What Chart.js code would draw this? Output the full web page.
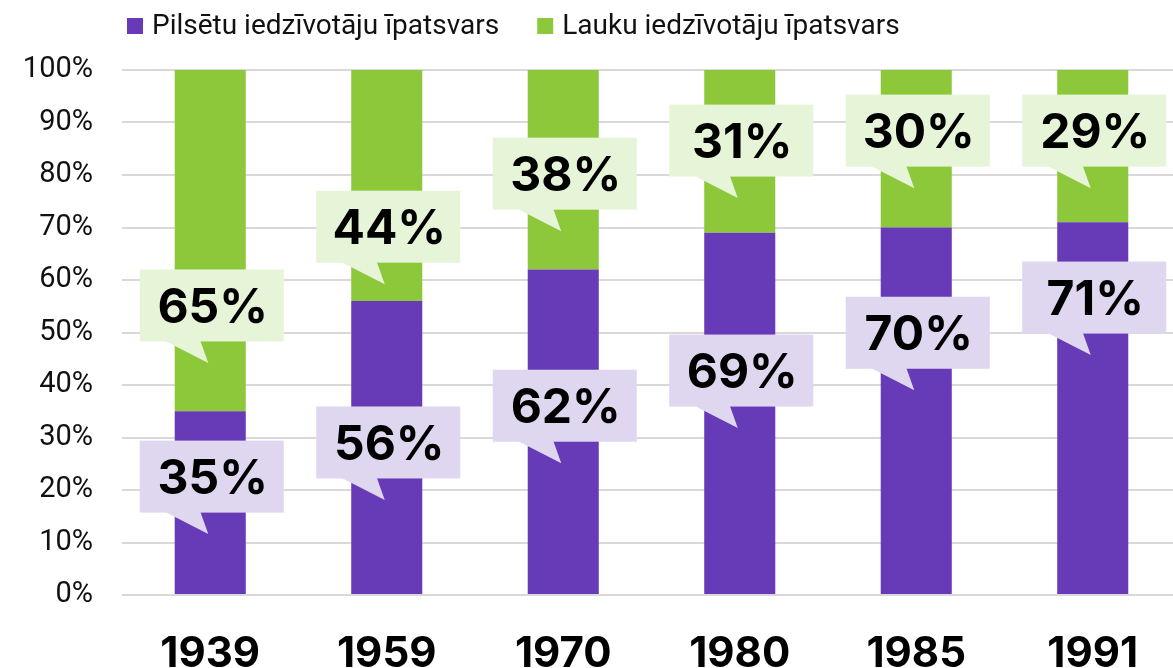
<!DOCTYPE html>
<html>
<head>
<meta charset="utf-8">
<script src="https://cdn.jsdelivr.net/npm/chart.js@4.4.1/dist/chart.umd.min.js"></script>
<style>
  html, body { margin: 0; padding: 0; background: #ffffff; overflow: hidden; }
  #wrap { position: relative; width: 1173px; height: 668px; overflow: hidden; }
  #c { display: block; }
</style>
</head>
<body>
<div id="wrap"><canvas id="c" width="1181" height="668"></canvas></div>
<script>
// ---- data ----
const years = ['1939', '1959', '1970', '1980', '1985', '1991'];
const urbanShare = [35, 56, 62, 69, 70, 71];
const ruralShare = [65, 44, 38, 31, 30, 29];
const seriesNames = ['Pilsētu iedzīvotāju īpatsvars', 'Lauku iedzīvotāju īpatsvars'];
const yTicks = [0, 10, 20, 30, 40, 50, 60, 70, 80, 90, 100];
// where each callout's pointer tip sits, in axis units (%)
const urbanCalloutTip = [11.6, 18.1, 25.1, 31.8, 39.0, 45.7];
const ruralCalloutTip = [44.2, 59.2, 69.3, 75.6, 77.5, 77.5];

const PURPLE = '#673ab7';
const GREEN = '#8cc83a';
const PURPLE_LIGHT = '#dfd6f0';
const GREEN_LIGHT = '#e6f4d8';

const legendPlugin = {
  id: 'customLegend',
  afterDraw(chart) {
    const ctx = chart.ctx;
    ctx.save();
    ctx.font = '400 28px Roboto';
    ctx.textBaseline = 'alphabetic';
    ctx.textAlign = 'left';
    let x = 127;
    chart.data.datasets.forEach((ds, i) => {
      ctx.fillStyle = ds.backgroundColor;
      ctx.fillRect(x, 18, 16, 16);
      ctx.fillStyle = '#111111';
      ctx.fillText(ds.label, x + 25, 34);
      x += 25 + ctx.measureText(ds.label).width + 38;
    });
    ctx.restore();
  }
};

const calloutPlugin = {
  id: 'callouts',
  afterDatasetsDraw(chart) {
    const ctx = chart.ctx;
    const xs = chart.scales.x, ys = chart.scales.y;
    const sets = [
      { values: urbanShare, tips: urbanCalloutTip, fill: PURPLE_LIGHT },
      { values: ruralShare, tips: ruralCalloutTip, fill: GREEN_LIGHT }
    ];
    ctx.save();
    sets.forEach(s => {
      s.values.forEach((v, j) => {
        const cx = xs.getPixelForValue(j);
        const tipY = ys.getPixelForValue(s.tips[j]);
        const bottom = tipY - 21.5;
        const top = bottom - 72;
        const left = cx - 70.5;
        const w = 144;
        ctx.fillStyle = s.fill;
        ctx.fillRect(left, top, w, 72);
        ctx.beginPath();
        ctx.moveTo(cx - 46, bottom - 1);
        ctx.lineTo(cx - 2, tipY);
        ctx.lineTo(cx - 10, bottom - 1);
        ctx.closePath();
        ctx.fill();
        ctx.fillStyle = '#000000';
        ctx.font = '700 48px Inter';
        ctx.textAlign = 'center';
        ctx.textBaseline = 'alphabetic';
        ctx.fillText(v + '%', cx + 2.5, (top + bottom) / 2 + 17.5);
      });
    });
    ctx.restore();
  }
};

new Chart(document.getElementById('c'), {
  type: 'bar',
  data: {
    labels: years,
    datasets: [
      { label: seriesNames[0], data: urbanShare, backgroundColor: PURPLE, borderWidth: 0 },
      { label: seriesNames[1], data: ruralShare, backgroundColor: GREEN, borderWidth: 0 }
    ]
  },
  options: {
    responsive: false,
    animation: false,
    devicePixelRatio: 1,
    layout: { padding: { top: 70, right: 0, bottom: 0, left: 0 } },
    datasets: { bar: { barPercentage: 0.4025, categoryPercentage: 1.0 } },
    plugins: {
      legend: { display: false },
      tooltip: { enabled: false }
    },
    scales: {
      x: {
        stacked: true,
        grid: { display: false, drawTicks: false },
        border: { display: false },
        ticks: { color: '#000000', font: { family: 'Inter', size: 42, weight: '700' }, padding: 34, maxRotation: 0 },
        afterFit(scale) { scale.height = 73; }
      },
      y: {
        stacked: true,
        min: 0,
        max: 100,
        afterBuildTicks(scale) { scale.ticks = yTicks.map(v => ({ value: v })); },
        grid: { color: '#d9d9d9', lineWidth: 2, drawTicks: false },
        border: { display: false },
        ticks: {
          color: '#111111',
          font: { family: 'Roboto', size: 29, weight: '400' },
          padding: 29,
          callback: v => v + '%'
        },
        afterFit(scale) { scale.width = 122; }
      }
    }
  },
  plugins: [calloutPlugin, legendPlugin]
});
</script>
</body>
</html>
